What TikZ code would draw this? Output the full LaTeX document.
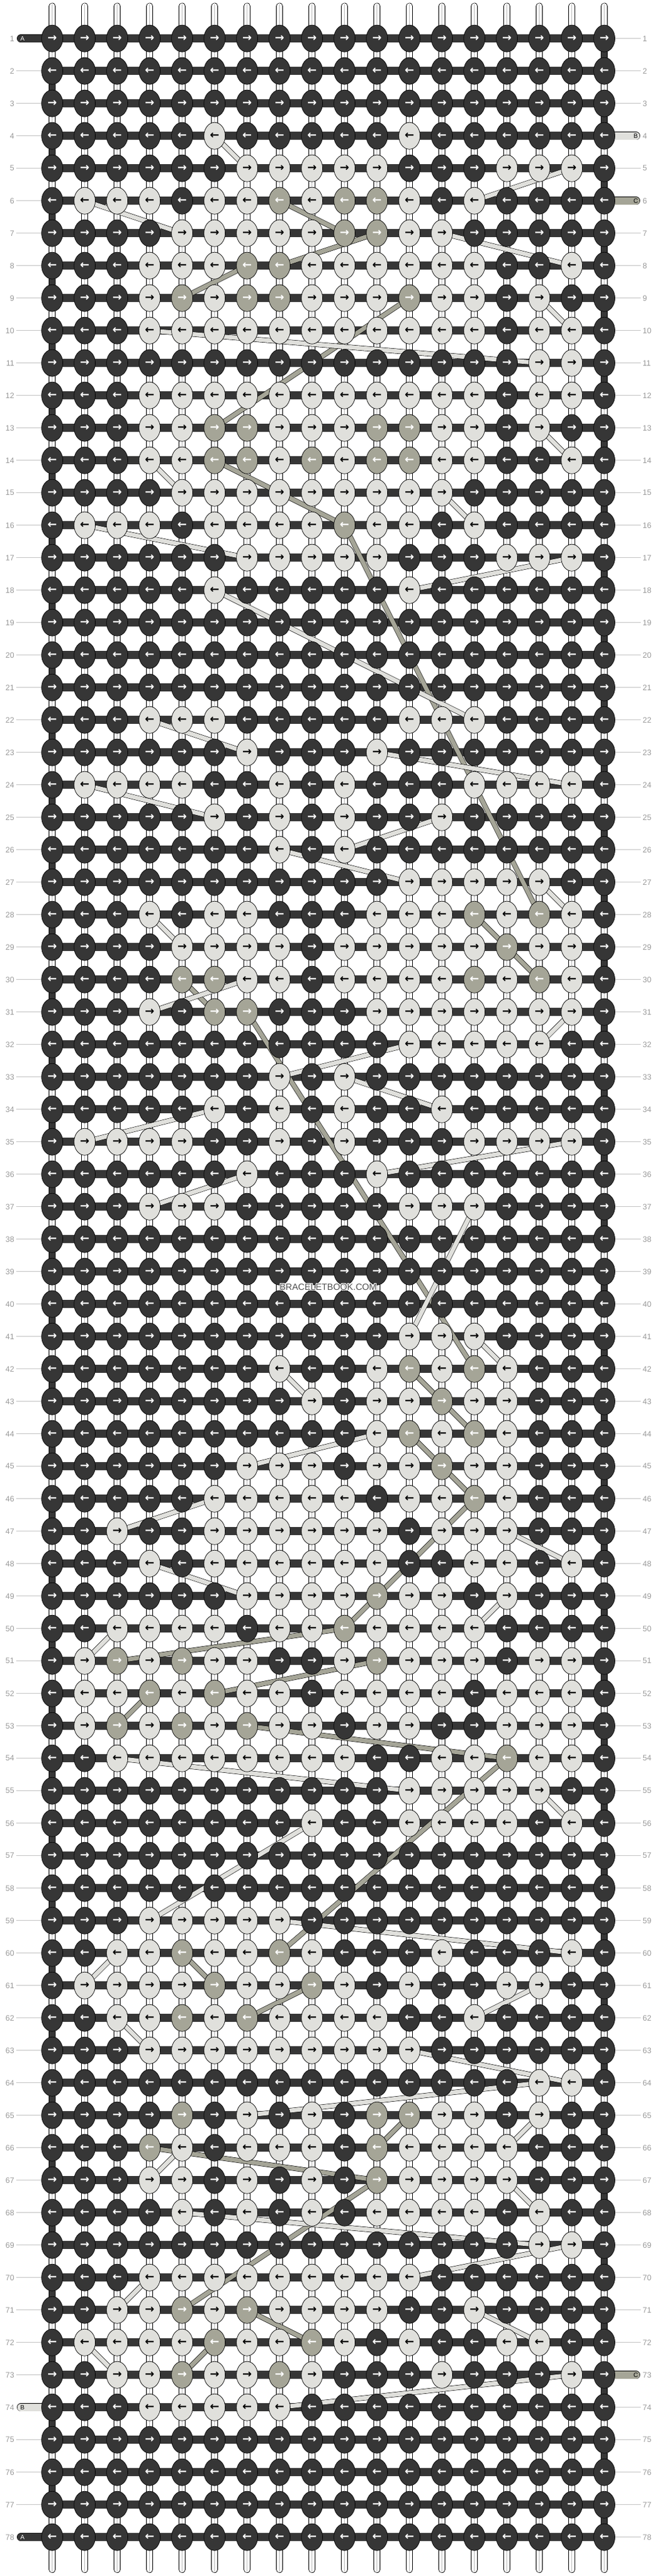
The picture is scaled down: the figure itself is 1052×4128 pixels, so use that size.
\documentclass[tikz,border=0pt]{standalone}
\usepackage{fontspec}
\setmainfont{Liberation Sans}
\newfontfamily\arrowfont{DejaVu Sans}
\usetikzlibrary{shapes.geometric}
\definecolor{kD}{HTML}{363636}
\definecolor{kL}{HTML}{E0E0DC}
\definecolor{kG}{HTML}{A5A597}
\definecolor{numgray}{HTML}{9A9A9A}
\definecolor{linegray}{HTML}{C4C4C4}
\definecolor{wmgray}{HTML}{505050}
\pgfdeclarelayer{bg}\pgfdeclarelayer{mid}
\pgfsetlayers{bg,mid,main}
\tikzset{
  knot/.style={ellipse, draw=black, line width=0.7pt, minimum width=34pt, minimum height=43pt, inner sep=0pt, font=\arrowfont\bfseries\fontsize{18}{18}\selectfont},
  knotD/.style={fill=kD, text=white},
  knotL/.style={fill=kL, text=black},
  knotG/.style={fill=kG, text=white},
  hbar/.style={draw=kD, line width=13pt},
  vseg/.style={draw=black, line width=0.7pt, double=white, double distance=9.6pt},
  vline/.style={draw=gray!55, line width=0.8pt},
  dseg/.style={draw=black, line width=0.7pt, double=kD, double distance=9.6pt},
  band/.style={draw=black, line width=0.6pt, double distance=6.8pt},
  tabline/.style={draw=black, line width=0.7pt, double distance=11.6pt, line cap=round},
  tabtext/.style={inner sep=0pt, font=\fontsize{10}{10}\selectfont},
  numL/.style={anchor=east, inner sep=3pt, text=numgray, font=\fontsize{12.5}{13}\selectfont},
  numR/.style={anchor=west, inner sep=3pt, text=numgray, font=\fontsize{12.5}{13}\selectfont},
  numline/.style={draw=linegray, line width=0.9pt},
  wm/.style={inner sep=0pt, font=\fontsize{14.4}{15}\selectfont}
}
\newcount\kcol
\def\knotrow#1#2{\kcol=0 \knotloop{#1}#2\relax}
\def\knotloop#1#2{%
  \ifx\relax#2\let\knext\relax
  \else\def\knext{\placeknot{#1}{#2}\knotloop{#1}}\fi
  \knext}
\def\placeknot#1#2{%
  \advance\kcol by 1
  \pgfmathsetmacro\kx{83.6+52*(\kcol-1)}%
  \pgfmathsetmacro\ky{61.7+52*(#1-1)}%
  \ifodd#1\relax\def\karr{→}\else\def\karr{←}\fi
  \node[knot,knot#2] (k-#1-\the\kcol) at (\kx,\ky) {\karr};}
\begin{document}
\begin{tikzpicture}[x=1pt,y=-1pt]
\useasboundingbox (0,0) rectangle (1052,4128);
\begin{pgfonlayer}{bg}
\fill[white] (0,0) rectangle (1052,4128);
\end{pgfonlayer}
% knots
\knotrow{1}{DDDDDDDDDDDDDDDDDD}
\knotrow{2}{DDDDDDDDDDDDDDDDDD}
\knotrow{3}{DDDDDDDDDDDDDDDDDD}
\knotrow{4}{DDDDDLDDDDDLDDDDDD}
\knotrow{5}{DDDDDDLLLLLDDDLLLD}
\knotrow{6}{DLLLDLLGLGGLDLDDDD}
\knotrow{7}{DDDDLLLLLGGLLDDDDD}
\knotrow{8}{DDDLLLGGLLLLLLDDLD}
\knotrow{9}{DDDLGLGGLLLGLLDLDD}
\knotrow{10}{DDDLLLLLLLLLLLDLLD}
\knotrow{11}{DDDDDDDDDDDDDDDLLD}
\knotrow{12}{DDDLLLLLLLLLLLDLLD}
\knotrow{13}{DDDLLGGLLLGGLLDLDD}
\knotrow{14}{DDDLLGGLGLGGLLDDLD}
\knotrow{15}{DDDDLLLLLLLLLDDDDD}
\knotrow{16}{DLLLDLLLLGLLDLDDDD}
\knotrow{17}{DDDDDDLLLLLDDDLLLD}
\knotrow{18}{DDDDDLDDDDDLDDDDDD}
\knotrow{19}{DDDDDDDDDDDDDDDDDD}
\knotrow{20}{DDDDDDDDDDDDDDDDDD}
\knotrow{21}{DDDDDDDDDDDDDDDDDD}
\knotrow{22}{DDDLLLDDDDDLLLDDDD}
\knotrow{23}{DDDDDDLDDDLDDDDDDD}
\knotrow{24}{DLLLLDDLDLDDDLLLLD}
\knotrow{25}{DDDDDLDLDLDDLDDDDD}
\knotrow{26}{DDDDDDDLDLDDDDDDDD}
\knotrow{27}{DDDDDDDDDDDLLLLLDD}
\knotrow{28}{DDDLDLLDDDLLLGLGLD}
\knotrow{29}{DDDDLLLLDLLLLLGLLD}
\knotrow{30}{DDDDGGLLDLLLLGLGLD}
\knotrow{31}{DDDLDGGDDDLLLLLLLD}
\knotrow{32}{DDDDDDDDDDDLLLLLDD}
\knotrow{33}{DDDDDDDLDLDDDDDDDD}
\knotrow{34}{DDDDDLDLDLDDLDDDDD}
\knotrow{35}{DLLLLDDLDLDDDLLLLD}
\knotrow{36}{DDDDDDLDDDLDDDDDDD}
\knotrow{37}{DDDLLLDDDDDLLLDDDD}
\knotrow{38}{DDDDDDDDDDDDDDDDDD}
\knotrow{39}{DDDDDDDDDDDDDDDDDD}
\knotrow{40}{DDDDDDDDDDDDDDDDDD}
\knotrow{41}{DDDDDDDDDDDLLLDDDD}
\knotrow{42}{DDDDDDDLDDLGLGLDDD}
\knotrow{43}{DDDDDDDDLDLLGLLDDD}
\knotrow{44}{DDDDDDDDDDLGLGLDDD}
\knotrow{45}{DDDDDDLLLDLLGLLDDD}
\knotrow{46}{DDDDDLLLLLDLLGLDDD}
\knotrow{47}{DDLDDLLLLLLDLLLDDD}
\knotrow{48}{DDDLDLLLLLLDDLLDLD}
\knotrow{49}{DDDDDDLLLLGLLDLDDD}
\knotrow{50}{DDLLLLDLLGLLLLDDDD}
\knotrow{51}{DLGLGLLDDLGLLLDLLD}
\knotrow{52}{DLLGLGLLDLLLLDLLLD}
\knotrow{53}{DLGLGLGLLDLLDDLLLD}
\knotrow{54}{DDLLLLLLLLDDLLGLLD}
\knotrow{55}{DDDDDDDDDDDLLLLLDD}
\knotrow{56}{DDDDDDDDLDDLLLLDLD}
\knotrow{57}{DDDDDDDDDDDDDDDDDD}
\knotrow{58}{DDDDDDDDDDDDDDDDDD}
\knotrow{59}{DDDLLLLLDDDDDDDDDD}
\knotrow{60}{DDLLGLLGLDDDLDDDLD}
\knotrow{61}{DLLLLGLLGLDLDDLLDD}
\knotrow{62}{DDLLGLGLLLLDDLDDDD}
\knotrow{63}{DDDLLLLLLLLLDDDDDD}
\knotrow{64}{DDDDDDDDDDDDDDDLLD}
\knotrow{65}{DDDDGDLDLDGGLLDLDD}
\knotrow{66}{DDDGLDLLLDGLLLLDDD}
\knotrow{67}{DDDLLDLDLDGLLLLDDD}
\knotrow{68}{DDDDLDLDLDLLLLDLDD}
\knotrow{69}{DDDDDDDDDDDDDDDLLD}
\knotrow{70}{DDDLLLLLLLLLDDDDDD}
\knotrow{71}{DDLLGLGLLLLDDLDDDD}
\knotrow{72}{DLLLLGLLGLDLDDLLDD}
\knotrow{73}{DDLLGLLGLDDDLDDDLD}
\knotrow{74}{DDDLLLLLDDDDDDDDDD}
\knotrow{75}{DDDDDDDDDDDDDDDDDD}
\knotrow{76}{DDDDDDDDDDDDDDDDDD}
\knotrow{77}{DDDDDDDDDDDDDDDDDD}
\knotrow{78}{DDDDDDDDDDDDDDDDDD}
% row numbers
\foreach \r in {1,...,78}{
  \pgfmathsetmacro\yy{61.7+52*(\r-1)}
  \node[numL] (ln-\r) at (26,\yy) {\r};
  \node[numR] (rn-\r) at (1026,\yy) {\r};
}
% top and bottom thread ends
\foreach \c in {1,...,18}{
  \pgfmathsetmacro\xx{83.6+52*(\c-1)}
  \coordinate (t-\c) at (\xx,10);
  \coordinate (b-\c) at (\xx,4117.5);
}
% tab ends
\coordinate (tabl-1) at (33.5,61.7);
\coordinate (tabl-74) at (33.5,3857.7);
\coordinate (tabl-78) at (33.5,4065.7);
\coordinate (tabr-4) at (1018.5,217.7);
\coordinate (tabr-6) at (1018.5,321.7);
\coordinate (tabr-73) at (1018.5,3805.7);
\begin{pgfonlayer}{bg}
  \foreach \c in {1,...,18}{
    \draw[vseg, line cap=round] (t-\c) -- (k-1-\c.center);
    \draw[vline] ([yshift=3pt]t-\c) -- (k-1-\c.center);
    \draw[vseg, line cap=round] (b-\c) -- (k-78-\c.center);
    \draw[vline] ([yshift=-3pt]b-\c) -- (k-78-\c.center);
  }
  \foreach \r [evaluate=\r as \rn using {int(\r+1)}] in {1,...,77}{
    \foreach \c in {1,...,18}{
      \pgfmathtruncatemacro\isdark{(mod(\r,2)==1 && \c==18) || (mod(\r,2)==0 && \c==1)}
      \ifnum\isdark=1
        \draw[dseg] (k-\r-\c.center) -- (k-\rn-\c.center);
      \else
        \draw[vseg] (k-\r-\c.center) -- (k-\rn-\c.center);
        \draw[vline] (k-\r-\c.center) -- (k-\rn-\c.center);
      \fi
    }
  }
  \foreach \r in {1,...,78}{
    \foreach \c [evaluate=\c as \cn using {int(\c+1)}] in {1,...,17}{
      \draw[hbar] (k-\r-\c.center) -- (k-\r-\cn.center);
    }
  }
  \foreach \r in {2,...,73,75,76,77}{
    \draw[numline] (ln-\r.east) -- (k-\r-1.center);
  }
  \foreach \r in {1,2,3,5,7,8,...,72,74,75,76,77,78}{
    \draw[numline] (k-\r-18.center) -- (rn-\r.west);
  }
  \draw[tabline, double=kD] (tabl-1) -- (k-1-1.center);
  \draw[tabline, double=kD] (tabl-78) -- (k-78-1.center);
  \draw[tabline, double=kL] (tabl-74) -- (k-74-1.center);
  \draw[tabline, double=kL] (tabr-4) -- (k-4-18.center);
  \draw[tabline, double=kG] (tabr-6) -- (k-6-18.center);
  \draw[tabline, double=kG] (tabr-73) -- (k-73-18.center);
\end{pgfonlayer}
% diagonal threads
\begin{pgfonlayer}{mid}
  \foreach \ra/\ca/\rb/\cb/\bc in {
    4/6/5/7/L, 6/14/5/17/L, 6/2/7/5/L, 6/8/7/10/G, 7/11/8/8/G, 8/7/9/5/G,
    7/13/8/17/L, 9/12/13/6/G, 9/16/10/17/L, 10/4/11/16/L, 13/16/14/17/L,
    14/4/15/5/L, 14/6/16/10/G, 15/13/16/14/L, 16/2/17/7/L, 16/10/28/16/G,
    17/17/18/12/L, 18/6/22/14/L, 22/4/23/7/L, 23/11/24/17/L, 24/2/25/6/L,
    25/13/26/10/L, 26/8/27/12/L,
    27/16/28/17/L, 28/4/29/5/L, 28/14/30/16/G, 30/5/31/6/G, 30/7/31/4/L,
    31/7/42/14/G, 31/17/32/16/L, 32/12/33/8/L, 33/10/34/13/L, 34/6/35/2/L,
    35/17/36/11/L, 36/7/37/4/L, 37/14/41/12/L,
    41/14/42/15/L, 42/12/44/14/G, 44/12/46/14/G, 46/14/50/10/G, 50/10/51/3/G,
    51/11/52/6/G, 52/4/53/3/G, 42/8/43/9/L, 44/11/45/7/L, 46/6/47/3/L,
    47/15/48/17/L, 48/4/49/7/L, 49/15/50/14/L, 50/3/51/2/L,
    53/7/54/15/G, 54/15/60/8/G, 54/3/55/12/L, 55/16/56/17/L, 56/9/59/4/L,
    59/8/60/17/L, 60/3/61/2/L, 60/5/61/6/G, 61/9/62/7/G, 61/16/62/14/L,
    62/3/63/4/L, 63/12/64/17/L, 64/16/65/7/L, 65/12/66/11/G, 65/16/66/15/L,
    66/5/67/4/L, 66/4/67/11/G, 67/11/71/5/G, 67/15/68/16/L, 68/5/69/16/L,
    69/17/70/12/L, 70/4/71/3/L, 71/7/72/9/G, 71/14/72/16/L, 72/2/73/3/L,
    72/6/73/5/G, 73/17/74/8/L}{
    \draw[band, double=k\bc] (k-\ra-\ca.center) -- (k-\rb-\cb.center);
  }
\end{pgfonlayer}
% tab labels
\node[tabtext, text=white] (lab-1) at (36,61.7) {A};
\node[tabtext, text=white] (lab-78) at (36,4065.7) {A};
\node[tabtext, text=black] (lab-74) at (36,3857.7) {B};
\node[tabtext, text=black] (lab-4) at (1018,217.7) {B};
\node[tabtext, text=black] (lab-6) at (1018,321.7) {C};
\node[tabtext, text=black] (lab-73) at (1018,3805.7) {C};
% watermark
\foreach \dx/\dy [count=\i] in {-1/-1,-1/0,-1/1,0/-1,0/1,1/-1,1/0,1/1}{
  \node[wm, text=white] (wmh-\i) at (525.5+\dx,2063+\dy) {BRACELETBOOK.COM};
}
\node[wm, text=wmgray] (wm) at (525.5,2063) {BRACELETBOOK.COM};
\end{tikzpicture}
\end{document}
